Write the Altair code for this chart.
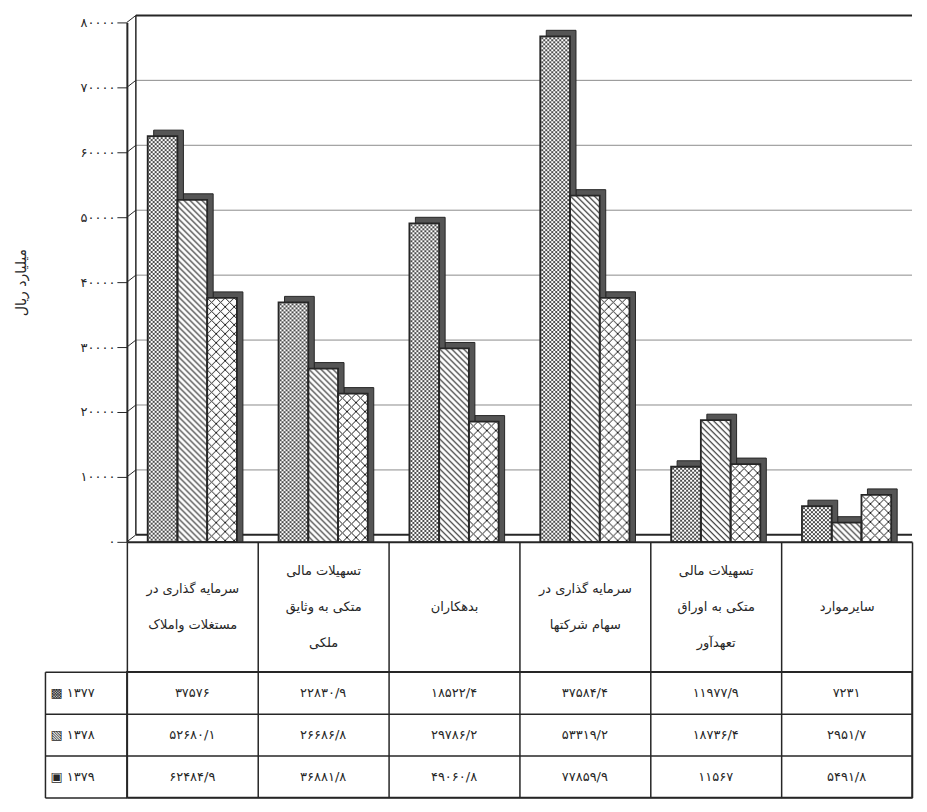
import urllib.parse
import altair as alt
import pandas as pd

# ---------------- data ----------------
categories = [
    "سرمایه گذاری در|مستغلات واملاک",
    "تسهیلات مالی|متکی به وثایق|ملکی",
    "بدهکاران",
    "سرمایه گذاری در|سهام شرکتها",
    "تسهیلات مالی|متکی به اوراق|تعهدآور",
    "سایرموارد",
]
years = ["1377", "1378", "1379"]
values_1377 = [37576, 22830.9, 18522.4, 37584.4, 11977.9, 7231]
values_1378 = [52680.1, 26686.8, 29786.2, 53319.2, 18736.4, 2951.7]
values_1379 = [62484.9, 36881.8, 49060.8, 77859.9, 11567, 5491.8]
y_ticks = [0, 10000, 20000, 30000, 40000, 50000, 60000, 70000, 80000]
y_title = "میلیارد ریال"
legend_glyphs = ["▩", "▧", "▣"]
bar_order = ["1379", "1378", "1377"]

series = {"1377": values_1377, "1378": values_1378, "1379": values_1379}

FA = str.maketrans("0123456789.", "۰۱۲۳۴۵۶۷۸۹/")


def fa(v):
    return str(v).translate(FA)


rows = []
for yr in years:
    for cat, v in zip(categories, series[yr]):
        rows.append({"cat": cat, "year": yr, "value": v, "label": fa(v)})
df = pd.DataFrame(rows)
tick_df = pd.DataFrame({"value": y_ticks})

# ---------------- style / layout ----------------
INK = "#262626"
FONT = "DejaVu Sans"
COL = 131
W = COL * len(categories)
H = 520
HEADER = 130
ROW = 42
LEG = 82
DX, DY = 9, -7      # depth of the 3-D wall
BD = 6              # depth of the 3-D bars
PAD_OUT = 0.7       # outer padding of the bar group inside a column
LINE = 36           # line spacing of the header labels


def hatch_url(step, dirs, width):
    s = step
    d = ""
    if "\\" in dirs:
        d += f"M0,0L{s},{s}M-1,{s-1}L1,{s+1}M{s-1},-1L{s+1},1"
    if "/" in dirs:
        d += f"M0,{s}L{s},0M-1,1L1,-1M{s-1},{s+1}L{s+1},{s-1}"
    svg = (
        '<svg xmlns="http://www.w3.org/2000/svg" width="100%" height="100%">'
        f'<defs><pattern id="p" width="{s}" height="{s}" patternUnits="userSpaceOnUse">'
        f'<path d="{d}" stroke="#1e1e1e" stroke-width="{width}" fill="none"/></pattern></defs>'
        '<rect width="100%" height="100%" fill="#ffffff"/>'
        '<rect width="100%" height="100%" fill="url(#p)"/></svg>'
    )
    return "data:image/svg+xml," + urllib.parse.quote(svg)


hatches = {
    "1379": hatch_url(4, "\\/", 0.8),
    "1378": hatch_url(6, "\\", 1.1),
    "1377": hatch_url(9, "\\/", 1.0),
}

y_label_expr = " : ".join(f"datum.value == {t} ? '{fa(t)}'" for t in y_ticks) + " : ''"
year_label_expr = (
    " : ".join(f"datum.value == '{yr}' ? '{g}  {fa(yr)}'" for yr, g in zip(years, legend_glyphs))
    + " : datum.label"
)
# header labels: 1-3 lines; the padding moves each block so that it is centred in the cell
S = "split(datum.value, '|')"
header_padding = {
    "condition": [
        {"test": f"length({S}) == 3", "value": -(HEADER // 2) - LINE},
        {"test": f"length({S}) == 2", "value": -(HEADER // 2) - LINE // 2},
    ],
    "value": -(HEADER // 2),
}

y_scale = alt.Scale(domain=[0, 80000], nice=False, zero=True)
y_axis = alt.Axis(
    values=y_ticks, labelExpr=y_label_expr, title=y_title, titleFontSize=14,
    titleFontWeight="normal", titleColor=INK, titlePadding=52, grid=False,
    domain=True, domainColor=INK, domainWidth=2, ticks=True, tickSize=10,
    tickColor=INK, tickWidth=1, labelFontSize=13, labelColor=INK, labelPadding=2,
)
Y = alt.Y("value:Q", scale=y_scale, axis=y_axis, stack=None)

x_enc = alt.X(
    "cat:N", sort=categories, scale=alt.Scale(paddingInner=0, paddingOuter=0),
    axis=alt.Axis(
        title=None, orient="bottom", domain=True, domainColor=INK, domainWidth=2,
        ticks=True, tickSize=HEADER, tickBand="extent", tickColor=INK, tickWidth=1.5,
        labelExpr="split(datum.label, '|')", labelPadding=header_padding,
        labelBaseline="middle", labelFontSize=13, labelLineHeight=LINE,
        labelColor=INK, labelAngle=0, labelOverlap=False,
    ),
)
XO = alt.XOffset("year:N", sort=bar_order,
                 scale=alt.Scale(domain=bar_order, paddingInner=0, paddingOuter=PAD_OUT))
# same bar slots, moved BD pixels to the right (for the 3-D side faces)
_step = COL / (len(bar_order) + 2 * PAD_OUT)
_free = COL - len(bar_order) * _step
XO_SHADOW = alt.XOffset("year:N", sort=bar_order,
                        scale=alt.Scale(domain=bar_order, paddingInner=0, paddingOuter=PAD_OUT,
                                        align=0.5 + BD / _free))

# ---------------- chart A: 3-D bar chart ----------------
ticks_base = alt.Chart(tick_df)

grid_inner = ticks_base.transform_filter(
    "datum.value > 0 && datum.value < 80000"
).mark_rule(color="#8c8c8c", strokeWidth=1, xOffset=DX, yOffset=DY).encode(
    y=Y, x=alt.value(0), x2=alt.value("width")
)
grid_frame = ticks_base.transform_filter(
    "datum.value == 0 || datum.value == 80000"
).mark_rule(color=INK, strokeWidth=2, xOffset=DX, yOffset=DY).encode(
    y=Y, x=alt.value(0), x2=alt.value("width")
)
connectors = ticks_base.mark_rule(color=INK, strokeWidth=1, x2Offset=DX, y2Offset=DY).encode(
    x=alt.value(0), x2=alt.value(0), y=Y, y2=alt.Y2("value:Q")
)
back_wall = ticks_base.mark_rule(
    color=INK, strokeWidth=1.5, xOffset=DX, yOffset=DY, y2Offset=DY
).encode(
    x=alt.value(0),
    y=alt.Y("min(value):Q", scale=y_scale, axis=y_axis),
    y2=alt.Y2("max(value):Q"),
)

bars = alt.Chart(df)
shadow = bars.mark_bar(
    fill="#555555", stroke=INK, strokeWidth=1, yOffset=-BD, y2Offset=-BD
).encode(x=x_enc, xOffset=XO_SHADOW, y=Y)
base = bars.mark_bar(fill="#c4c4c4").encode(x=x_enc, xOffset=XO, y=Y)
images = [
    bars.transform_filter(alt.datum.year == yr)
    .mark_image(aspect=False)
    .encode(x=x_enc, xOffset=XO, y=Y, url=alt.value(hatches[yr]))
    for yr in years
]
outline = bars.mark_bar(fillOpacity=0, stroke=INK, strokeWidth=1.8).encode(
    x=x_enc, xOffset=XO, y=Y
)

chart_a = (
    alt.layer(grid_inner, grid_frame, connectors, back_wall, shadow, base, *images, outline)
    .resolve_scale(xOffset="independent")
    .properties(width=W, height=H, view=alt.ViewBackground(stroke="transparent"))
)

# ---------------- chart B: data table ----------------
chart_b = alt.Chart(df).mark_text(fontSize=13, color=INK).encode(
    x=alt.X(
        "cat:N", sort=categories, scale=alt.Scale(paddingInner=0, paddingOuter=0),
        axis=alt.Axis(title=None, labels=False, ticks=False, domain=False, grid=True,
                      gridColor=INK, gridWidth=1.5, tickBand="extent"),
    ),
    y=alt.Y(
        "year:N", sort=years, scale=alt.Scale(paddingInner=0, paddingOuter=0),
        axis=alt.Axis(
            title=None, orient="right", offset=-(W + LEG), tickSize=LEG, tickBand="extent",
            ticks=True, tickColor=INK, tickWidth=1.5, domain=True, domainColor=INK,
            domainWidth=1.5, grid=True, gridColor=INK, gridWidth=1.5,
            labelExpr=year_label_expr, labelPadding=-(LEG - 5), labelAlign="left",
            labelFontSize=13, labelColor=INK,
        ),
    ),
    text="label:N",
).properties(width=W, height=ROW * len(years),
             view=alt.ViewBackground(stroke=INK, strokeWidth=1.5))

chart = (
    alt.vconcat(chart_a, chart_b, spacing=HEADER, bounds="flush")
    .properties(padding={"left": 5, "top": 5, "right": 5, "bottom": 0})
    .configure(font=FONT)
)

chart.save("out.html", embed_options={"renderer": "svg", "actions": False})
